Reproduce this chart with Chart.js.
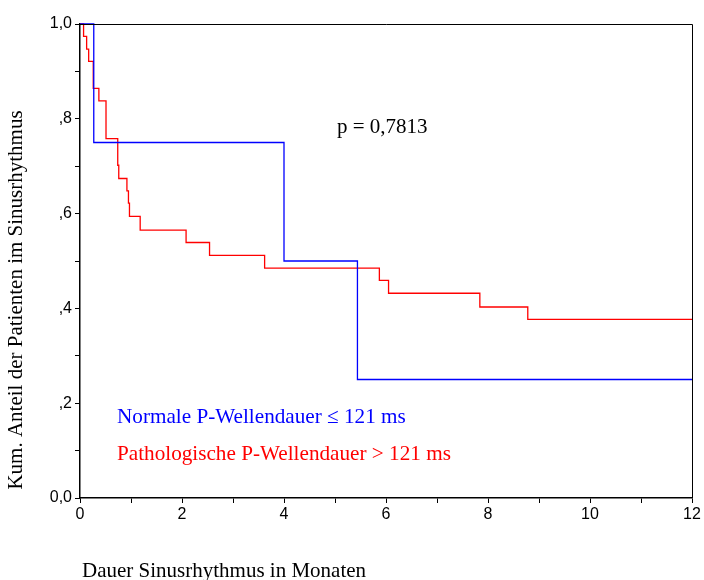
<!DOCTYPE html>
<html>
<head>
<meta charset="utf-8">
<script src="https://cdn.jsdelivr.net/npm/chart.js@4"></script>
<style>
  html, body { margin: 0; padding: 0; background: #fff; }
  #wrap { width: 704px; height: 580px; position: relative; }
</style>
</head>
<body>
<div id="wrap"><canvas id="kmChart"></canvas></div>
<script>
// Kaplan-Meier data (months, cumulative share)
const normalTimes = [0, 0.27, 4.0, 5.44, 12];
const normalSurv = [1.0, 0.75, 0.5, 0.25, 0.25];

const pathoTimes = [0, 0.07, 0.13, 0.17, 0.26, 0.37, 0.51, 0.74, 0.76, 0.92, 0.95, 0.97, 1.18, 2.08, 2.54, 3.62, 5.87, 6.05, 7.84, 8.78, 12];
const pathoSurv = [1.0, 0.974, 0.947, 0.921, 0.864, 0.838, 0.758, 0.702, 0.674, 0.648, 0.622, 0.594, 0.565, 0.539, 0.512, 0.485, 0.459, 0.432, 0.403, 0.377, 0.377];

const xTickLabels = ['0', '2', '4', '6', '8', '10', '12'];
const yTickLabels = ['0,0', ',2', ',4', ',6', ',8', '1,0'];

const labelNormal = 'Normale P-Wellendauer \u2264 121 ms';
const labelPatho = 'Pathologische P-Wellendauer > 121 ms';
const pText = 'p = 0,7813';
const yTitle = 'Kum. Anteil der Patienten im Sinusrhythmus';
const xTitle = 'Dauer Sinusrhythmus in Monaten';

const serif = '"Liberation Serif", "Times New Roman", serif';
const sans = '"Liberation Sans", Arial, sans-serif';

const toPoints = (xs, ys) => xs.map((x, i) => ({ x: x, y: ys[i] }));

// frame + free texts
const textPlugin = {
  id: 'kmTexts',
  afterDraw(chart) {
    const ctx = chart.ctx;
    const a = chart.chartArea;
    ctx.save();
    ctx.strokeStyle = '#000';
    ctx.lineWidth = 1;
    ctx.beginPath();
    ctx.moveTo(a.left, a.top + 0.5);
    ctx.lineTo(a.right + 0.5, a.top + 0.5);
    ctx.lineTo(a.right + 0.5, a.bottom);
    ctx.stroke();

    ctx.textBaseline = 'alphabetic';
    ctx.textAlign = 'left';
    ctx.font = '21px ' + serif;
    ctx.fillStyle = '#000';
    ctx.fillText(pText, 337, 133);
    ctx.font = '21.2px ' + serif;
    ctx.fillStyle = '#0000ff';
    ctx.fillText(labelNormal, 117, 423);
    ctx.fillStyle = '#ff0000';
    ctx.fillText(labelPatho, 117, 460);

    ctx.font = '21px ' + serif;
    ctx.fillStyle = '#000';
    ctx.fillText(xTitle, 82, 577);

    ctx.translate(22, 300);
    ctx.rotate(-Math.PI / 2);
    ctx.textAlign = 'center';
    ctx.fillText(yTitle, 0, 0);
    ctx.restore();
  }
};

new Chart(document.getElementById('kmChart').getContext('2d'), {
  type: 'line',
  data: {
    datasets: [
      {
        label: labelNormal,
        data: toPoints(normalTimes, normalSurv),
        borderColor: '#0000ff',
        borderWidth: 1.3,
        stepped: true,
        pointRadius: 0,
        fill: false,
        clip: 3
      },
      {
        label: labelPatho,
        data: toPoints(pathoTimes, pathoSurv),
        borderColor: '#ff0000',
        borderWidth: 1.3,
        stepped: true,
        pointRadius: 0,
        fill: false,
        clip: 3
      }
    ]
  },
  options: {
    responsive: true,
    maintainAspectRatio: false,
    animation: false,
    layout: { padding: { top: 24, right: 12, left: 0, bottom: 0 } },
    plugins: {
      legend: { display: false },
      tooltip: { enabled: false }
    },
    scales: {
      x: {
        type: 'linear',
        min: 0,
        max: 12,
        afterFit: (s) => { s.height = 82; },
        afterBuildTicks: (s) => {
          s.ticks = [];
          for (let i = 0; i <= 12; i++) s.ticks.push({ value: i });
        },
        ticks: {
          color: '#000',
          font: { family: sans, size: 16 },
          padding: 2,
          maxRotation: 0,
          autoSkip: false,
          callback: (v) => (v % 2 === 0 ? xTickLabels[v / 2] : '')
        },
        grid: { drawOnChartArea: false, drawTicks: true, tickLength: 5, color: '#000' },
        border: { color: '#000', width: 1.5 }
      },
      y: {
        type: 'linear',
        min: 0,
        max: 1,
        afterFit: (s) => { s.width = 80; },
        afterBuildTicks: (s) => {
          s.ticks = [];
          for (let i = 0; i <= 10; i++) s.ticks.push({ value: i / 10 });
        },
        ticks: {
          color: '#000',
          font: { family: sans, size: 16 },
          padding: 3,
          autoSkip: false,
          callback: (v) => {
            const k = Math.round(v * 10);
            return k % 2 === 0 ? yTickLabels[k / 2] : '';
          }
        },
        grid: { drawOnChartArea: false, drawTicks: true, tickLength: 5, color: '#000' },
        border: { color: '#000', width: 1.5 }
      }
    }
  },
  plugins: [textPlugin]
});
</script>
</body>
</html>
